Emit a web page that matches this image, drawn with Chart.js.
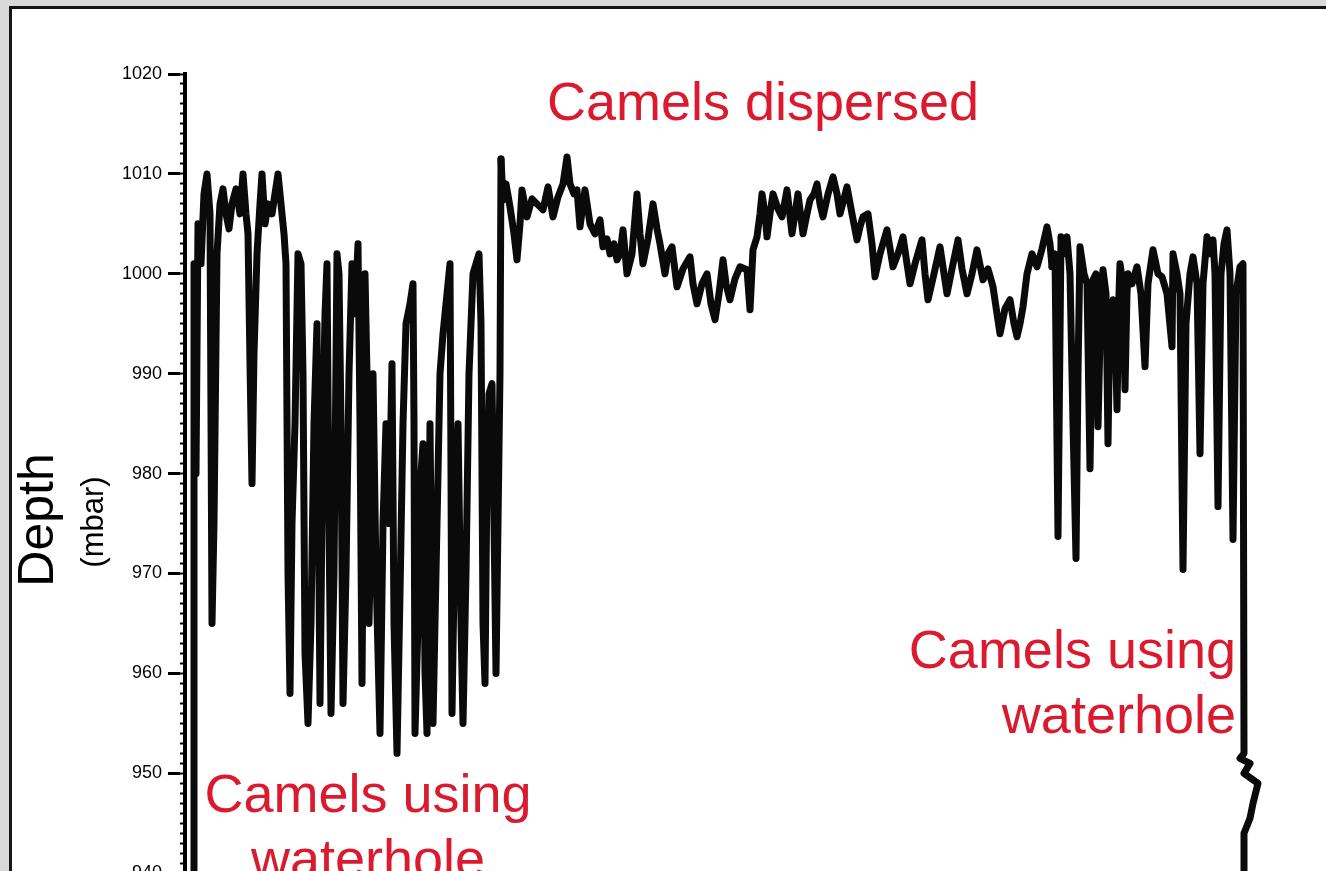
<!DOCTYPE html>
<html>
<head>
<meta charset="utf-8">
<title>Waterhole depth record</title>
<script src="https://cdn.jsdelivr.net/npm/chart.js"></script>
<style>
    html, body { margin: 0; padding: 0; overflow: hidden; background: #d9d9d9; }
    body { width: 1326px; height: 871px; position: relative; font-family: 'Liberation Sans', Arial, sans-serif; }
    .frame { position: absolute; left: 9px; top: 6px; width: 1400px; height: 1000px; background: #fff; border-left: 3px solid #151515; border-top: 3px solid #151515; }
    .wrap { position: absolute; left: 0; top: 0; width: 1326px; height: 940px; }
</style>
</head>
<body>
<div class="frame"></div>
<div class="wrap"><canvas id="depthChart"></canvas></div>

<script>
// --- DATA (time in samples since logger start, depth in mbar) ---
// waterhole in use, first period
const timeA = [9, 9, 11, 13, 16, 19, 22, 25, 27, 29, 32, 35, 38, 41, 44, 47, 51, 55, 58, 61,
    63, 65, 67, 69, 72, 75, 77, 80, 83, 87, 90, 93, 96, 99, 101, 103, 105, 107, 110, 113,
    116, 118, 120, 123, 126, 129, 132, 135, 138, 140, 142, 144, 146, 149, 152, 154, 156, 158, 161, 164,
    167, 170, 173, 175, 177, 179, 180, 182, 184, 186, 188, 191, 195, 198, 201, 204, 207, 209, 212, 215,
    218, 221, 225, 228, 229, 230, 233, 236, 238, 240, 242, 245, 248, 251, 255, 258, 262, 265, 266, 267,
    270, 273, 276, 278, 281, 284, 288, 291, 294, 296, 298, 300, 302, 304, 307, 309, 311, 313, 315, 316];
const depthA = [935, 1001, 980, 1005, 1001, 1008, 1010, 1006, 965, 975, 1002, 1007, 1008.5, 1006, 1004.5, 1007, 1008.5, 1006, 1010, 1006,
    1004, 991, 979, 992, 1002, 1007, 1010, 1005, 1007, 1006, 1008, 1010, 1007, 1004, 1001, 970, 958, 975, 985, 1002,
    1001, 990, 962, 955, 965, 985, 995, 957, 985, 996, 1001, 975, 956, 970, 1002, 1000, 985, 957, 970, 990,
    1001, 996, 1003, 985, 959, 985, 1000, 990, 965, 975, 990, 970, 954, 975, 985, 975, 991, 965, 952, 968,
    985, 995, 997, 999, 985, 954, 965, 980, 983, 960, 954, 985, 955, 970, 990, 994, 998, 1001, 980, 956,
    975, 985, 965, 955, 970, 990, 1000, 1001, 1002, 995, 965, 959, 980, 988, 989, 975, 960, 975, 990, 1011.5];

// camels dispersed
const timeB = [316, 318, 321, 325, 329, 332, 335, 337, 342, 347, 352, 358, 363, 368, 373, 378, 382, 385, 389, 392,
    395, 400, 405, 410, 415, 418, 422, 425, 429, 432, 435, 438, 442, 447, 452, 455, 458, 463, 468, 472,
    475, 480, 483, 487, 492, 498, 505, 508, 512, 517, 522, 526, 530, 534, 538, 541, 545, 550, 555, 562,
    565, 568, 572, 575, 577, 580, 582, 585, 588, 593, 597, 602, 607, 610, 613, 618, 622, 625, 629, 632,
    635, 638, 643, 648, 652, 655, 659, 662, 667, 672, 675, 678, 683, 687, 690, 695, 702, 708, 713, 718,
    722, 725, 730, 737, 740, 743, 749, 755, 759, 762, 767, 773, 777, 782, 787, 792, 798, 803, 808, 812,
    815, 820, 825, 829, 832, 835, 838, 842, 847, 852, 857, 862, 865, 867];
const depthB = [1011.5, 1007.4, 1009, 1006.7, 1004, 1001.4, 1005, 1008.4, 1005.7, 1007.5, 1007, 1006.4, 1008.7, 1005.7, 1007.7, 1009, 1011.7, 1009, 1008, 1008.4,
    1004.7, 1008.4, 1005, 1004, 1005.4, 1002.7, 1003.5, 1002, 1003, 1001.4, 1002, 1004.4, 1000, 1002, 1008, 1004, 1001, 1003.5, 1007, 1004.5,
    1003, 1000, 1002, 1002.7, 998.7, 1000.5, 1001.7, 999, 997, 999, 1000, 997, 995.4, 998, 1001.4, 999, 997.4, 999.5, 1000.7, 1000.4,
    996.4, 1002.4, 1003.7, 1006, 1008, 1006, 1003.7, 1006, 1008, 1006.5, 1005.7, 1008.4, 1004, 1006, 1008, 1004, 1006, 1007.4, 1008, 1009,
    1007, 1005.7, 1008, 1009.7, 1008, 1006, 1007.5, 1008.7, 1006, 1003.4, 1004.7, 1005.7, 1006, 1003, 999.7, 1002, 1004.4, 1000.7, 1002, 1003.7,
    1001, 999, 1001, 1003.4, 1000, 997.4, 1000, 1002.7, 1000, 998, 1000.5, 1003.4, 1000.5, 998, 1000, 1002.4, 999.4, 1000.5, 998.7, 996,
    994, 996.5, 997.4, 995, 993.7, 995, 996.7, 1000, 1002, 1000.7, 1002.5, 1004.7, 1003, 1000.7];

// waterhole in use, second period
const timeC = [867, 870, 873, 876, 879, 882, 885, 888, 891, 893, 895, 899, 902, 905, 908, 911, 913, 916, 918, 921,
    923, 925, 928, 930, 932, 934, 935, 938, 940, 942, 943, 947, 952, 956, 960, 963, 968, 973, 977, 982,
    987, 988, 992, 995, 998, 1001, 1005, 1008, 1012, 1015, 1018, 1022, 1025, 1028, 1030, 1033, 1036, 1039, 1042, 1045,
    1048, 1051, 1055, 1058, 1059, 1055, 1065, 1059, 1073, 1068, 1065, 1059, 1059];
const depthC = [1000.7, 1002, 973.7, 1003.7, 1002, 1003.7, 1000, 985, 971.5, 990, 1002.7, 1000, 999, 980.5, 999.4, 1000, 984.7, 998, 1000.4, 998,
    983, 996, 997.4, 995, 986.4, 998, 1001, 999, 988.4, 998, 1000, 999, 1000.7, 998, 990.7, 999, 1002.4, 1000, 999.7, 998,
    992.7, 1002, 1000, 998, 970.4, 995, 1000, 1001.7, 999, 982, 999, 1003.7, 1002, 1003.4, 1000, 976.7, 1000, 1003, 1004.4, 1000,
    973.4, 998, 1000.7, 1001, 952, 951.5, 951, 950, 949, 947, 945.5, 944, 935];

// axis
const depthTicks = [940, 950, 960, 970, 980, 990, 1000, 1010, 1020];
const depthMin = 935;
const depthMax = 1020;
const timeMax = 1141;

// annotations
const notes = [
    { text: 'Camels dispersed', x: 763, y: 120, align: 'center' },
    { text: 'Camels using', x: 368, y: 812, align: 'center' },
    { text: 'waterhole', x: 368, y: 877, align: 'center' },
    { text: 'Camels using', x: 1236, y: 668, align: 'right' },
    { text: 'waterhole', x: 1236, y: 733, align: 'right' }
];

const minorTicks = [];
for (let v = depthMin; v <= depthMax; v++) minorTicks.push(v);

const pts = (t, d) => t.map((x, i) => ({ x: x, y: d[i] }));

const trace = (t, d) => ({
    data: pts(t, d),
    borderColor: '#0a0a0a',
    borderWidth: 7,
    borderJoinStyle: 'round',
    borderCapStyle: 'round',
    pointRadius: 0,
    tension: 0,
    fill: false
});

// red labels and the y axis title
const notesPlugin = {
    id: 'notes',
    afterDraw(chart) {
        const ctx = chart.ctx;
        ctx.save();
        ctx.fillStyle = '#da1a2e';
        ctx.font = '54px "Liberation Sans", Arial, sans-serif';
        ctx.textBaseline = 'alphabetic';
        notes.forEach(n => {
            ctx.textAlign = n.align;
            ctx.fillText(n.text, n.x, n.y);
        });

        ctx.fillStyle = '#000';
        ctx.textAlign = 'center';
        ctx.translate(53, 520);
        ctx.rotate(-Math.PI / 2);
        ctx.font = '50px "Liberation Sans", Arial, sans-serif';
        ctx.fillText('Depth', 0, 0);
        ctx.restore();

        ctx.save();
        ctx.fillStyle = '#000';
        ctx.textAlign = 'center';
        ctx.translate(103, 522);
        ctx.rotate(-Math.PI / 2);
        ctx.font = '31px "Liberation Sans", Arial, sans-serif';
        ctx.fillText('(mbar)', 0, 0);
        ctx.restore();
    }
};

new Chart(document.getElementById('depthChart'), {
    type: 'line',
    data: {
        datasets: [trace(timeA, depthA), trace(timeB, depthB), trace(timeC, depthC)]
    },
    options: {
        responsive: true,
        maintainAspectRatio: false,
        animation: false,
        layout: { padding: { top: 74, bottom: 16, left: 0, right: 0 } },
        plugins: { legend: { display: false }, tooltip: { enabled: false } },
        scales: {
            x: { type: 'linear', min: 0, max: timeMax, display: false },
            y: {
                min: depthMin, max: depthMax, position: 'left', weight: 0,
                afterBuildTicks: s => { s.ticks = minorTicks.map(v => ({ value: v })); },
                afterFit: s => { s.width = 5; },
                ticks: { display: false },
                grid: { drawOnChartArea: false, tickLength: 5, tickWidth: 2, tickColor: '#000' },
                border: { display: true, width: 4, color: '#000' }
            },
            yMajor: {
                min: depthMin, max: depthMax, position: 'left', weight: 1,
                afterBuildTicks: s => { s.ticks = depthTicks.map(v => ({ value: v })); },
                afterFit: s => { s.width = 180; },
                ticks: { color: '#000', padding: 6, autoSkip: false, font: { size: 18, family: '"Liberation Sans", Arial, sans-serif' }, callback: v => String(v) },
                grid: { drawOnChartArea: false, tickLength: 12, tickWidth: 3, tickColor: '#000' },
                border: { display: false }
            }
        }
    },
    plugins: [notesPlugin]
});
</script>
</body>
</html>
